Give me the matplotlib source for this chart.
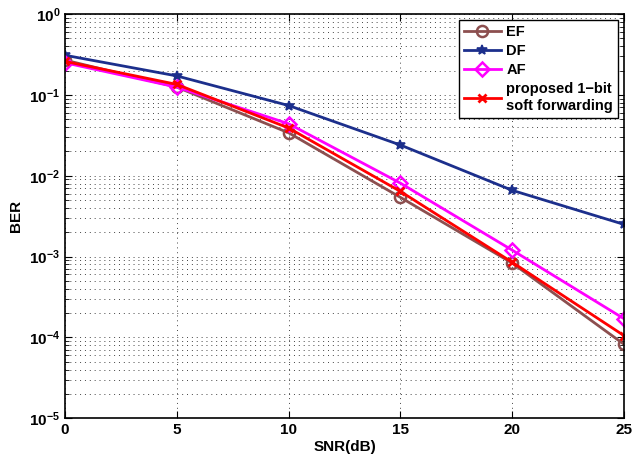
import matplotlib
matplotlib.use("Agg")
import matplotlib.pyplot as plt

snr = [0, 5, 10, 15, 20, 25]
ber_ef = [0.27, 0.125, 0.034, 0.0054, 0.00083, 8.2e-5]
ber_df = [0.31, 0.172, 0.074, 0.0240, 0.0066, 0.0025]
ber_af = [0.25, 0.125, 0.044, 0.0081, 0.0012, 1.7e-4]
ber_1bit = [0.26, 0.135, 0.039, 0.0064, 0.00085, 1.05e-4]

plt.rcParams["font.family"] = ["Liberation Sans", "DejaVu Sans"]
plt.rcParams["font.weight"] = "bold"

fig = plt.figure(figsize=(6.44, 4.57), dpi=100)
ax = fig.add_axes([0.101, 0.085, 0.868, 0.884])

ax.semilogy(snr, ber_ef, color="#8c4f4f", lw=2, marker="o", ms=8,
            mfc="none", mew=1.8, label="EF")
ax.semilogy(snr, ber_df, color="#1c2f8c", lw=2, marker="*", ms=7,
            mew=1.2, label="DF")
ax.semilogy(snr, ber_af, color="#ff00ff", lw=2, marker="D", ms=7,
            mfc="none", mew=1.8, label="AF")
ax.semilogy(snr, ber_1bit, color="#ff0000", lw=2, marker="x", ms=6,
            mew=2, label="proposed 1\u2212bit\nsoft forwarding")

ax.set_xlim(0, 25)
ax.set_ylim(1e-5, 1)
ax.set_xticks(snr)
grid_ls = (0, (1, 4))
ax.grid(True, which="major", ls=grid_ls, color="#444444", lw=0.7)
ax.grid(True, which="minor", axis="y", ls=grid_ls, color="#444444", lw=0.7)
ax.tick_params(which="both", direction="in", top=True, right=True,
               labelsize=11)
ax.tick_params(which="major", length=5)
ax.tick_params(which="minor", length=3)
for s in ax.spines.values():
    s.set_linewidth(1.2)

ax.set_xlabel("SNR(dB)", fontsize=11, fontweight="bold", labelpad=2)
ax.set_ylabel("BER", fontsize=11, fontweight="bold", labelpad=4)

leg = ax.legend(loc="upper right", fontsize=10.5, handlelength=2.5,
                fancybox=False, edgecolor="black", framealpha=1,
                borderpad=0.35, labelspacing=0.35, handletextpad=0.4,
                borderaxespad=0.4)
leg.get_frame().set_linewidth(1.0)

fig.savefig("out.png", dpi=100)
